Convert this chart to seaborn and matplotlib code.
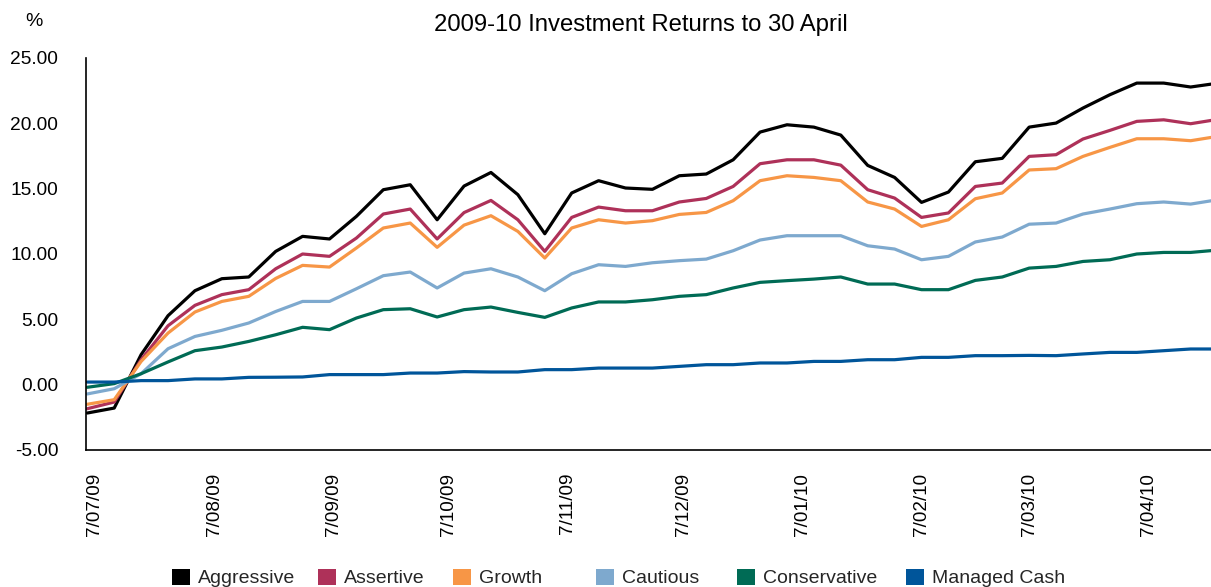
import matplotlib
matplotlib.use("Agg")
import matplotlib.pyplot as plt
import matplotlib.dates as mdates
from matplotlib.patches import Patch
from matplotlib.ticker import FuncFormatter, FixedLocator
import numpy as np
import pandas as pd
import seaborn as sns

# ---------------- data ----------------
series_names = ["Aggressive", "Assertive", "Growth", "Cautious", "Conservative", "Managed Cash"]
start_date = "2009-07-05"
n_weeks = 43

aggressive = [-2.17, -1.79, 2.30, 5.28, 7.19, 8.11, 8.24, 10.2, 11.35, 11.15, 12.88, 14.92, 15.30,
              12.62, 15.2, 16.24, 14.54, 11.55, 14.67, 15.61, 15.05, 14.95, 15.99, 16.12, 17.21,
              19.33, 19.89, 19.71, 19.1, 16.78, 15.86, 13.95, 14.74, 17.06, 17.32, 19.71, 20.02,
              21.17, 22.19, 23.08, 23.08, 22.78, 23.07]
assertive = [-1.84, -1.33, 1.91, 4.51, 6.07, 6.89, 7.27, 8.87, 10.0, 9.82, 11.22, 13.06, 13.44,
             11.15, 13.17, 14.10, 12.62, 10.20, 12.80, 13.59, 13.31, 13.31, 13.98, 14.25, 15.17,
             16.91, 17.21, 17.21, 16.8, 14.92, 14.28, 12.80, 13.14, 15.17, 15.43, 17.47, 17.60,
             18.80, 19.46, 20.15, 20.27, 19.97, 20.30]
growth = [-1.50, -1.15, 1.78, 3.95, 5.56, 6.37, 6.76, 8.13, 9.13, 9.00, 10.46, 11.99, 12.37,
          10.51, 12.21, 12.93, 11.73, 9.69, 11.99, 12.62, 12.37, 12.55, 13.03, 13.18, 14.08,
          15.61, 15.99, 15.86, 15.61, 13.98, 13.44, 12.11, 12.62, 14.23, 14.67, 16.43, 16.53,
          17.47, 18.16, 18.82, 18.82, 18.67, 19.0]
cautious = [-0.71, -0.31, 0.84, 2.75, 3.69, 4.16, 4.72, 5.6, 6.37, 6.37, 7.34, 8.34, 8.62,
            7.40, 8.54, 8.87, 8.24, 7.19, 8.49, 9.18, 9.05, 9.33, 9.49, 9.61, 10.25,
            11.07, 11.40, 11.40, 11.40, 10.63, 10.38, 9.56, 9.82, 10.92, 11.30, 12.28, 12.37,
            13.06, 13.44, 13.85, 13.98, 13.82, 14.15]
conservative = [-0.20, 0.08, 0.84, 1.74, 2.60, 2.88, 3.31, 3.82, 4.39, 4.21, 5.10, 5.74, 5.81,
                5.18, 5.74, 5.94, 5.53, 5.15, 5.87, 6.33, 6.33, 6.50, 6.76, 6.89, 7.40,
                7.83, 7.96, 8.08, 8.24, 7.70, 7.70, 7.27, 7.27, 7.98, 8.24, 8.92, 9.05,
                9.43, 9.56, 10.0, 10.12, 10.12, 10.3]
managed_cash = [0.20, 0.20, 0.31, 0.31, 0.44, 0.44, 0.56, 0.57, 0.59, 0.77, 0.77, 0.77, 0.89,
                0.89, 1.0, 0.97, 0.97, 1.15, 1.15, 1.27, 1.27, 1.27, 1.40, 1.53, 1.53,
                1.66, 1.66, 1.78, 1.78, 1.91, 1.91, 2.09, 2.09, 2.22, 2.22, 2.24, 2.22,
                2.35, 2.47, 2.47, 2.60, 2.73, 2.73]

y_ticks = [-5, 0, 5, 10, 15, 20, 25]
title = "2009-10 Investment Returns to 30 April"

colors = {
    "Aggressive": "#000000",
    "Assertive": "#AE3159",
    "Growth": "#F79646",
    "Cautious": "#7EA9CE",
    "Conservative": "#006B55",
    "Managed Cash": "#00559A",
}

# ---------------- frame ----------------
dates = pd.date_range(start_date, periods=n_weeks, freq="7D")
values = [aggressive, assertive, growth, cautious, conservative, managed_cash]
df = pd.concat(
    [pd.DataFrame({"date": dates, "value": v, "series": name}) for name, v in zip(series_names, values)],
    ignore_index=True,
)

sns.set_style("white")
plt.rcParams["font.family"] = ["Liberation Sans", "DejaVu Sans"]

W, H = 1211, 587
fig = plt.figure(figsize=(W / 100, H / 100), dpi=100)
ax = fig.add_axes([86 / W, (H - 450) / H, (W - 86) / W, 392 / H])

sns.lineplot(data=df, x="date", y="value", hue="series", hue_order=series_names,
             palette=colors, linewidth=2.3, legend=False, ax=ax, sort=False)

# axes limits
d0 = dates[0]
ax.set_xlim(d0 - pd.Timedelta(days=0.34), d0 + pd.Timedelta(days=292.3))
ax.set_ylim(-5, 25)

# y ticks
ax.yaxis.set_major_locator(FixedLocator(y_ticks))
ax.yaxis.set_major_formatter(FuncFormatter(lambda v, p: f"{v:.2f}"))
ax.tick_params(axis="y", length=0, pad=20, labelsize=13.8, colors="black")

# x ticks on the 7th of each month
ax.xaxis.set_major_locator(mdates.MonthLocator(bymonthday=7))
def fmt_date(x, pos):
    d = mdates.num2date(x)
    return f"{d.day}/{d.month:02d}/{d.year % 100:02d}"
ax.xaxis.set_major_formatter(FuncFormatter(fmt_date))
ax.tick_params(axis="x", length=0, pad=16.5, labelsize=13.6, labelrotation=90, colors="black")
for lab in ax.get_xticklabels():
    lab.set_va("top")
    lab.set_ha("center")

ax.set_xlabel("")
ax.set_ylabel("")
for side in ["top", "right"]:
    ax.spines[side].set_visible(False)
for side in ["left", "bottom"]:
    ax.spines[side].set_color("black")
    ax.spines[side].set_linewidth(1.2)
ax.grid(False)

# title and unit
fig.text(641 / W, 1 - 25 / H, title, ha="center", va="center", fontsize=17.2, color="black")
fig.text(34 / W, 1 - 22 / H, "%", ha="center", va="center", fontsize=14, color="black")

# legend items (individually positioned like the original)
legend_x = [172, 318, 453, 596, 737, 906]
for name, lx in zip(series_names, legend_x):
    fig.legend(handles=[Patch(facecolor=colors[name], edgecolor="none", label=name)],
               loc="center left", bbox_to_anchor=(lx / W, 1 - 578 / H),
               frameon=False, borderpad=0, borderaxespad=0, fontsize=14,
               handlelength=0.93, handleheight=0.93, handletextpad=0.42)

fig.savefig("out.png", dpi=100)
